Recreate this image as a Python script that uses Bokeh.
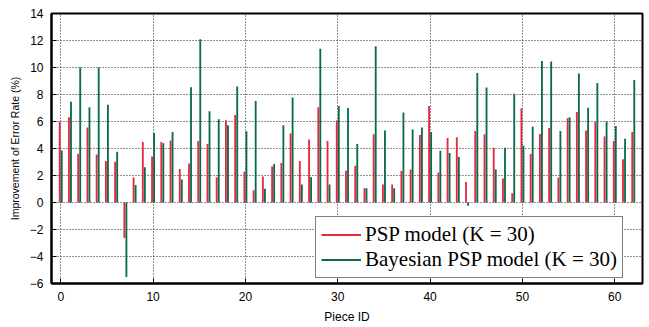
from bokeh.plotting import figure
from bokeh.models import FixedTicker, Range1d, Legend, LegendItem, ColumnDataSource
from bokeh.embed import file_html
from bokeh.resources import INLINE

piece_ids = list(range(63))
psp = [6.0, 6.32, 3.61, 5.56, 3.56, 3.07, 3.02, -2.63, 1.85, 4.49,
       3.41, 4.49, 4.6, 2.48, 2.89, 4.56, 4.34, 1.87, 6.1, 6.49,
       2.27, 0.9, 1.93, 2.66, 2.93, 5.12, 3.08, 4.67, 7.06, 4.55,
       6.07, 2.35, 2.73, 1.05, 5.05, 1.34, 1.34, 2.33, 2.44, 5.0,
       7.15, 2.22, 4.78, 4.83, 1.51, 5.29, 5.05, 4.05, 1.78, 0.68,
       6.98, 3.59, 5.07, 5.51, 1.85, 6.24, 6.71, 5.34, 5.98, 4.88,
       4.56, 3.2, 5.22]
bayes = [3.85, 7.46, 10.0, 7.05, 10.0, 7.24, 3.76, -5.51, 1.29, 2.61,
         5.15, 4.39, 5.22, 1.71, 8.54, 12.1, 6.76, 6.17, 5.73, 8.59,
         5.27, 7.51, 1.02, 2.85, 5.73, 7.78, 1.34, 1.87, 11.38, 1.34,
         7.15, 7.0, 4.34, 1.05, 11.57, 5.34, 1.05, 6.67, 5.41, 5.56,
         5.22, 3.83, 3.66, 3.37, -0.24, 9.59, 8.51, 2.44, 4.05, 8.05,
         4.2, 5.61, 10.49, 10.44, 5.29, 6.32, 9.56, 7.02, 8.85, 6.0,
         5.66, 4.73, 9.07]
x_ticks = [0, 10, 20, 30, 40, 50, 60]
y_ticks = [-6, -4, -2, 0, 2, 4, 6, 8, 10, 12, 14]
labels = ["PSP model (K = 30)", "Bayesian PSP model (K = 30)"]

RED = "#e62a3e"
GREEN = "#0b6b4f"
SANS = "Liberation Sans"
SERIF = "Liberation Serif"

p = figure(width=648, height=326, output_backend="svg", toolbar_location=None,
           x_range=Range1d(-1, 63), y_range=Range1d(-6, 14),
           min_border_left=51, min_border_right=6, min_border_top=13, min_border_bottom=40)

src = ColumnDataSource(dict(
    xr=[i - 0.11 for i in piece_ids],
    xg=[i + 0.11 for i in piece_ids],
    psp=psp, bayes=bayes))

p.vbar(x="xr", top="psp", bottom=0, width=0.2, source=src,
       fill_color=RED, line_color=None)
p.vbar(x="xg", top="bayes", bottom=0, width=0.2, source=src,
       fill_color=GREEN, line_color=None)

for ax in (p.xaxis[0], p.yaxis[0]):
    ax.major_label_text_font = SANS
    ax.major_label_text_font_size = "12px"
    ax.major_label_text_color = "black"
    ax.axis_label_text_font = SANS
    ax.axis_label_text_font_style = "normal"
    ax.axis_label_text_color = "black"
    ax.axis_line_color = "black"
    ax.axis_line_width = 2
    ax.major_tick_in = 5
    ax.major_tick_out = 0
    ax.minor_tick_in = 0
    ax.minor_tick_out = 0
    ax.major_tick_line_color = "black"
    ax.major_label_standoff = 8

p.xaxis.axis_label_text_font_size = "12px"
p.yaxis.axis_label_text_font_size = "10.5px"
p.xaxis.ticker = FixedTicker(ticks=x_ticks)
p.yaxis.ticker = FixedTicker(ticks=y_ticks)
p.xaxis.axis_label = "Piece ID"
p.yaxis.axis_label = "Improvement of Error Rate (%)"
p.xaxis.axis_label_standoff = 6
p.yaxis.axis_label_standoff = 6

p.xgrid.ticker = FixedTicker(ticks=x_ticks)
p.ygrid.ticker = FixedTicker(ticks=y_ticks)
for g in (p.xgrid[0], p.ygrid[0]):
    g.grid_line_color = "#222222"
    g.grid_line_alpha = 1.0
    g.grid_line_dash = "1 2"
    g.grid_line_width = 1

p.outline_line_color = "black"
p.outline_line_width = 2
p.background_fill_color = "white"
p.border_fill_color = "white"

# legend entries drawn as lines (placed outside the visible range)
leg_r1 = p.line(x=[-10, -9], y=[-20, -20], line_color=RED, line_width=2)
leg_r2 = p.line(x=[-10, -9], y=[-20, -20], line_color=GREEN, line_width=2)

legend = Legend(items=[LegendItem(label=labels[0], renderers=[leg_r1]),
                       LegendItem(label=labels[1], renderers=[leg_r2])],
                location=(264, 5), margin=0, padding=5, spacing=0,
                label_height=23, glyph_height=23, glyph_width=40,
                label_standoff=4,
                label_text_font=SERIF, label_text_font_size="21px",
                label_text_color="black",
                border_line_color="black", border_line_width=1.5,
                background_fill_color="white", background_fill_alpha=1)
p.add_layout(legend, "center")

open("out.html", "w").write(file_html(p, INLINE))
